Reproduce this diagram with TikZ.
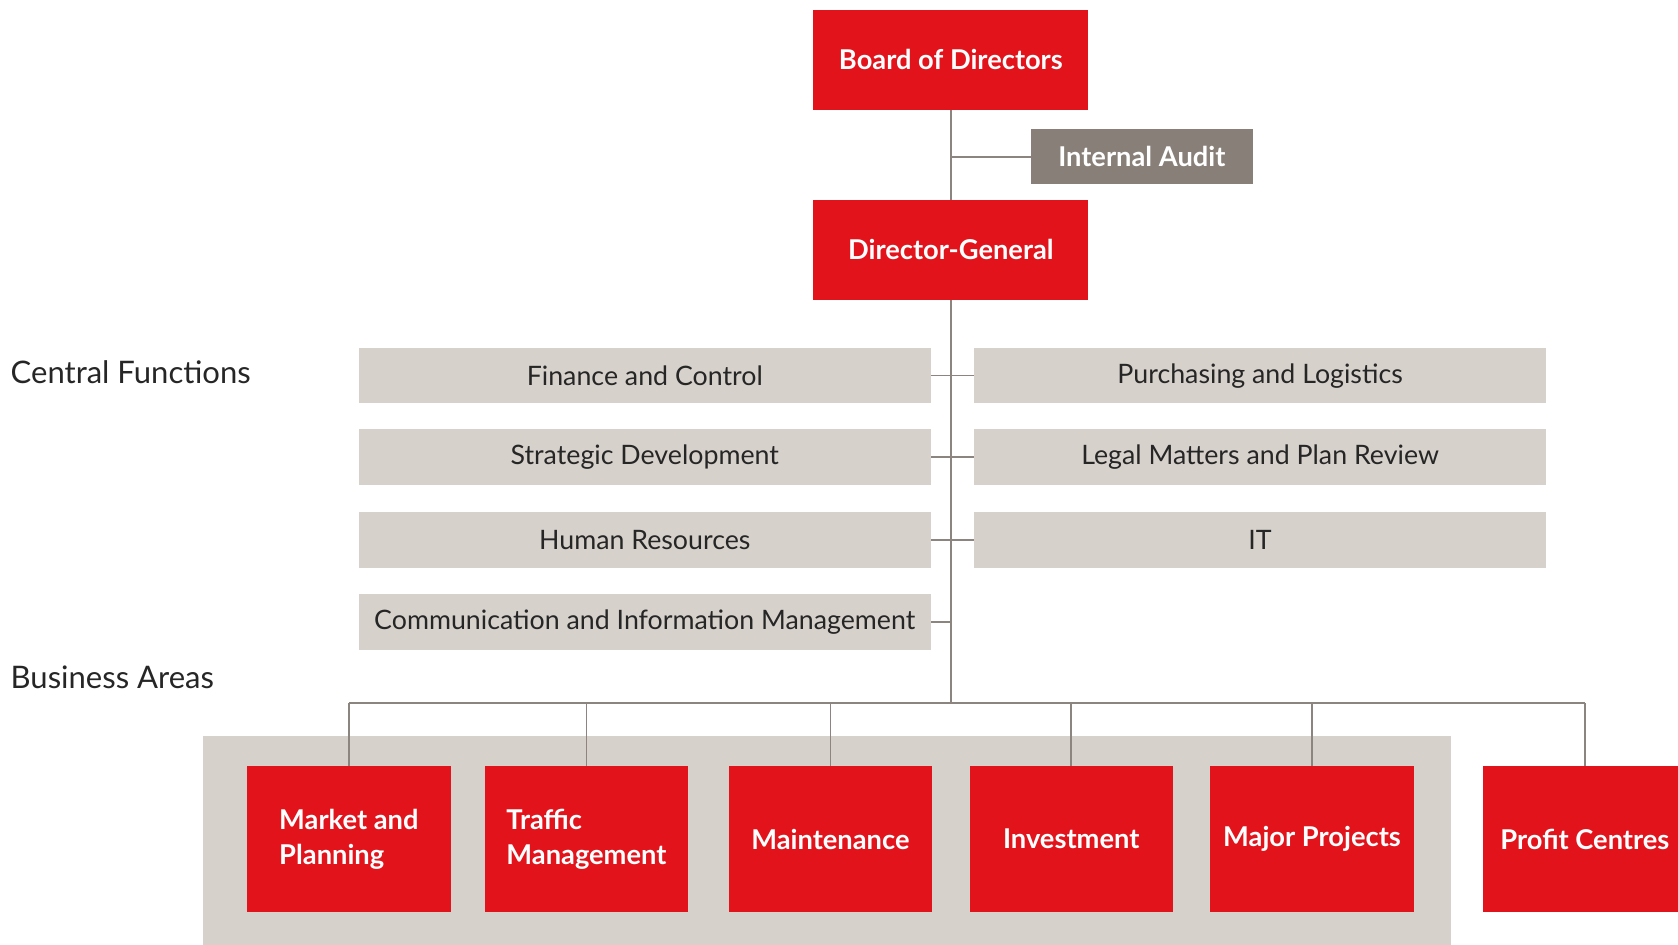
\documentclass[tikz,border=0pt]{standalone}
\usepackage{fontspec}
\setmainfont{Lato}
\definecolor{orgred}{HTML}{E3131B}
\definecolor{orggray}{HTML}{D6D1CB}
\definecolor{orgline}{HTML}{8C857F}
\definecolor{orgaudit}{HTML}{877F78}
\begin{document}
\begin{tikzpicture}[x=1pt, y=-1pt,
  every node/.style={inner sep=0pt, outer sep=0pt},
  topbox/.style={fill=orgred, text=white, minimum width=257pt, minimum height=94pt,
    font=\fontsize{25.5}{30}\selectfont\bfseries},
  funcbox/.style={fill=orggray, text=black!85, minimum width=535pt, minimum height=52pt,
    font=\fontsize{25}{30}\selectfont},
  areabox/.style={fill=orgred, text=white, minimum width=190pt, minimum height=136pt,
    align=left, font=\fontsize{25.5}{33}\selectfont\bfseries},
  grouplabel/.style={anchor=west, text=black!85, font=\fontsize{29}{34}\selectfont},
  link/.style={draw=orgline, line width=1.6pt}]
\useasboundingbox (0,0) rectangle (1568,883);
\node[topbox] (board) at (888.5,56) {Board of Directors};
\node[topbox, fill=orgaudit, minimum width=208pt, minimum height=51pt] (audit) at (1067,146.5) {Internal Audit};
\node[topbox] (dg) at (888.5,233.5) {Director-General};
\coordinate (bus) at (888.5,657);
\draw[link] (board) -- (dg);
\draw[link] (dg) -- (bus);
\draw[link] (audit.west) -- (audit.west -| board);
\node[grouplabel] (central) at (10,348) {Central Functions};
\node[grouplabel] (business) at (10,633) {Business Areas};
\foreach \name/\txt/\y in {fin/Finance and Control/351, strat/Strategic Development/427,
                           hr/Human Resources/504.5, comm/Communication and Information Management/581.5}{
  \node[funcbox] (\name) at (602.5,\y) {\txt};
  \draw[link] (\name.east) -- (\name.east -| dg);}
\foreach \name/\txt/\y in {purch/Purchasing and Logistics/351, legal/Legal Matters and Plan Review/427,
                           it/IT/504.5}{
  \node[funcbox] (\name) at (1177.5,\y) {\txt};
  \draw[link] (\name.west) -- (\name.west -| dg);}
\fill[orggray] (190,688) rectangle (1356,900);
\foreach \name/\txt/\x in {market/Market and\\Planning/326, traffic/Traffic\\Management/548,
                           maint/Maintenance/776, invest/Investment/1001,
                           major/Major Projects/1226, profit/Profit Centres/1481}{
  \node[areabox] (\name) at (\x,784) {\txt};
  \draw[link] (\name.north) -- (\name.north |- bus);}
\draw[link] (market.north |- bus) -- (profit.north |- bus);
\end{tikzpicture}
\end{document}
